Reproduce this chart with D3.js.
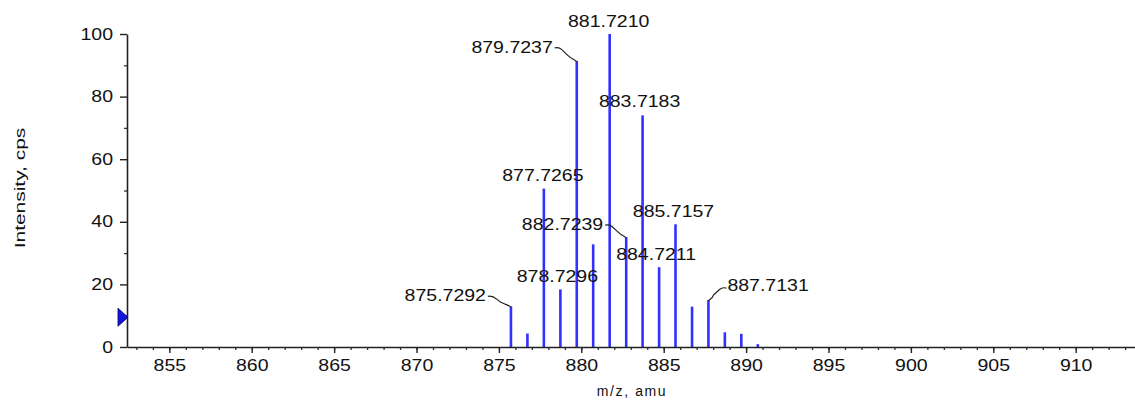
<!DOCTYPE html>
<html>
<head>
<meta charset="utf-8">
<script src="https://cdn.jsdelivr.net/npm/d3@7"></script>
<style>
  html, body { margin: 0; padding: 0; background: #fff; }
  svg { display: block; font-family: "Liberation Sans", Arial, sans-serif; }
</style>
</head>
<body>
<svg id="chart" width="1135" height="400"></svg>
<script>
// Isotope cluster: m/z of each centroid and its relative intensity (%)
const peakMz = [875.7292, 876.73, 877.7265, 878.7296, 879.7237, 880.72, 881.7210, 882.7239,
                883.7183, 884.7211, 885.7157, 886.72, 887.7131, 888.71, 889.71, 890.71];
const peakIntensity = [13.0, 4.3, 50.6, 18.4, 91.4, 32.8, 100, 35.1,
                       74.0, 25.5, 39.2, 12.9, 15.0, 4.7, 4.2, 0.9];

// Peaks that carry an m/z annotation
const labeledPeaks = ["875.7292", "877.7265", "878.7296", "879.7237", "881.7210",
                      "882.7239", "883.7183", "884.7211", "885.7157", "887.7131"];

// Axis ticks
const xTicks = [855, 860, 865, 870, 875, 880, 885, 890, 895, 900, 905, 910];
const yTicks = [0, 20, 40, 60, 80, 100];

// Threshold marker on the intensity axis
const thresholdLevel = [9.5];

// Annotation placement relative to the top of each peak (pixels)
const labelPlacement = {
  "875.7292": { anchor: "end",    dx: -25, dy: -5,  leader: true },
  "877.7265": { anchor: "middle", dx: -1,  dy: -8 },
  "878.7296": { anchor: "middle", dx: -3,  dy: -7 },
  "879.7237": { anchor: "end",    dx: -24, dy: -8,  leader: true },
  "881.7210": { anchor: "middle", dx: -1,  dy: -7 },
  "882.7239": { anchor: "end",    dx: -23, dy: -7,  leader: true },
  "883.7183": { anchor: "middle", dx: -3,  dy: -8 },
  "884.7211": { anchor: "middle", dx: -3,  dy: -7 },
  "885.7157": { anchor: "middle", dx: -2,  dy: -7 },
  "887.7131": { anchor: "start",  dx: 19,  dy: -9,  leader: true }
};

const svg = d3.select("#chart");
const plot = { left: 127, right: 1135, top: 34, bottom: 347 };
const textStretch = 1.22;

const x = d3.scaleLinear().domain([852.43, 913.6]).range([plot.left, plot.right]);
const y = d3.scaleLinear().domain([0, 100]).range([plot.bottom, plot.top]);

const peaks = peakMz.map((mz, i) => ({ mz, value: peakIntensity[i] }));

// Peaks
svg.append("g").selectAll("line")
  .data(peaks)
  .join("line")
  .attr("x1", d => x(d.mz)).attr("x2", d => x(d.mz))
  .attr("y1", y(0)).attr("y2", d => y(d.value))
  .attr("stroke", "#3030ff")
  .attr("stroke-width", 2.6);

// Minor ticks
svg.append("g")
  .attr("transform", `translate(0,${plot.bottom})`)
  .call(d3.axisBottom(x).tickValues(d3.range(853, 914, 1)).tickSize(3).tickFormat(""))
  .call(g => g.select(".domain").remove())
  .selectAll("line").attr("stroke", "#333").attr("stroke-width", 1.3);

svg.append("g")
  .attr("transform", `translate(${plot.left},0)`)
  .call(d3.axisLeft(y).tickValues([10, 30, 50, 70, 90]).tickSize(3).tickFormat(""))
  .call(g => g.select(".domain").remove())
  .selectAll("line").attr("stroke", "#333").attr("stroke-width", 1.3);

// X axis
const xAxis = svg.append("g")
  .attr("transform", `translate(0,${plot.bottom})`)
  .call(d3.axisBottom(x).tickValues(xTicks).tickSize(6).tickSizeOuter(0).tickFormat(d3.format("d")));
xAxis.select(".domain").attr("stroke", "#222").attr("stroke-width", 1.6);
xAxis.selectAll(".tick line").attr("stroke", "#222").attr("stroke-width", 1.4);
xAxis.selectAll(".tick text")
  .attr("y", 24).attr("dy", 0)
  .attr("transform", `scale(${textStretch},1)`)
  .attr("font-size", 16).attr("fill", "#111")
  .attr("font-family", "'Liberation Sans', Arial, sans-serif");

// Y axis
const yAxis = svg.append("g")
  .attr("transform", `translate(${plot.left},0)`)
  .call(d3.axisLeft(y).tickValues(yTicks).tickSize(7).tickSizeOuter(0).tickFormat(d3.format("d")));
yAxis.select(".domain").attr("stroke", "#222").attr("stroke-width", 1.6);
yAxis.selectAll(".tick line").attr("stroke", "#222").attr("stroke-width", 1.4);
yAxis.selectAll(".tick text")
  .attr("x", -14 / textStretch)
  .attr("transform", `scale(${textStretch},1)`)
  .attr("font-size", 16).attr("fill", "#111")
  .attr("font-family", "'Liberation Sans', Arial, sans-serif");

// Axis titles
svg.append("text")
  .attr("transform", `translate(632,396)`)
  .attr("text-anchor", "middle")
  .attr("font-size", 14)
  .attr("letter-spacing", 1.6)
  .attr("fill", "#111")
  .text("m/z, amu");

svg.append("text")
  .attr("transform", `translate(25,188) rotate(-90) scale(1.35,1)`)
  .attr("text-anchor", "middle")
  .attr("font-size", 15.5)
  .attr("fill", "#111")
  .text("Intensity, cps");

// Threshold marker
const yt = y(thresholdLevel[0]);
svg.append("path")
  .attr("d", `M${plot.left - 9},${yt - 9} L${plot.left + 1},${yt} L${plot.left - 9},${yt + 9} Z`)
  .attr("fill", "#1515e0")
  .attr("stroke", "#000070")
  .attr("stroke-width", 0.8);

// Peak annotations
const ann = svg.append("g");
labeledPeaks.forEach(label => {
  const mz = +label;
  const p = peaks.find(d => Math.abs(d.mz - mz) < 1e-6);
  const place = labelPlacement[label];
  const px = x(p.mz), py = y(p.value);
  const tx = px + place.dx, ty = py + place.dy;

  ann.append("text")
    .attr("transform", `translate(${tx},${ty}) scale(${textStretch},1)`)
    .attr("text-anchor", place.anchor)
    .attr("font-size", 16)
    .attr("fill", "#111")
    .text(label);

  if (place.leader) {
    // short wavy connector from the label to the top of its peak
    const sx = place.anchor === "end" ? tx + 2 : tx - 1;
    const sy = place.anchor === "end" ? ty - 5 : ty - 3;
    const dir = Math.sign(px - sx);
    const path = d3.path();
    path.moveTo(sx, sy);
    path.bezierCurveTo(sx + dir * 6, sy - 1.5, sx + dir * 8, sy + 3, sx + dir * 13, (sy + py) / 2 + 1);
    path.bezierCurveTo(px - dir * 4, py - 1, px - dir * 1, py - 1, px, py + 1);
    ann.append("path")
      .attr("d", path.toString())
      .attr("fill", "none")
      .attr("stroke", "#222")
      .attr("stroke-width", 1.2);
  }
});
</script>
</body>
</html>
